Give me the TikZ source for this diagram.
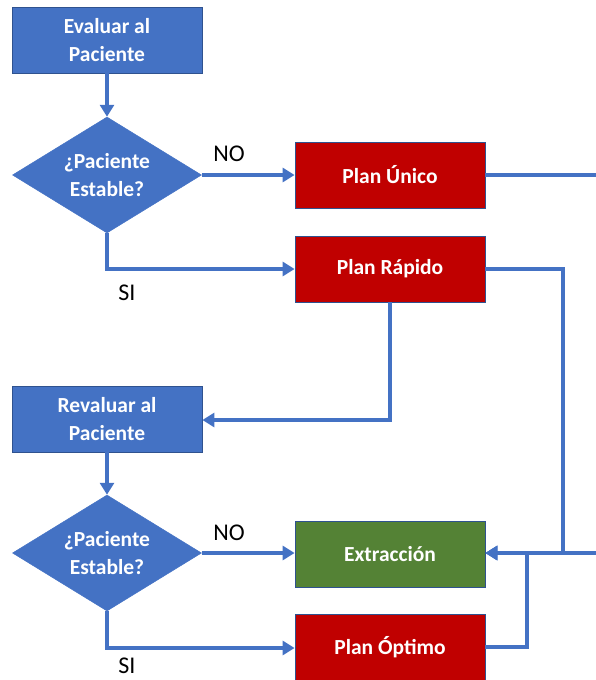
\documentclass[tikz,border=0pt]{standalone}
\usepackage{fontspec}
\setmainfont{Carlito}
\usetikzlibrary{shapes.geometric,arrows.meta}
\definecolor{oblue}{HTML}{4472C4}
\definecolor{oblueline}{HTML}{2F528F}
\definecolor{ored}{HTML}{C00000}
\definecolor{ogreen}{HTML}{548235}
\tikzset{
  fbox/.style={rectangle, draw=oblueline, line width=0.8pt, minimum width=190pt, minimum height=66pt, inner sep=0pt, text=white, align=center, font=\fontsize{21.5}{28}\selectfont\bfseries},
  bluebox/.style={fbox, fill=oblue},
  redbox/.style={fbox, fill=ored},
  greenbox/.style={fbox, fill=ogreen},
  decision/.style={diamond, fill=oblue, draw=oblue, line width=0.5pt, minimum width=189pt, minimum height=116pt, aspect=1.63, inner sep=0pt, text=white, align=center, font=\fontsize{21.5}{28}\selectfont\bfseries},
  conn/.style={draw=oblue, line width=3.5pt, -{Triangle[length=12pt,width=14pt]}},
  lbl/.style={text=black, font=\fontsize{24}{26}\selectfont, inner sep=0pt}
}
\begin{document}
\begin{tikzpicture}[x=1pt,y=-1pt]
\useasboundingbox (0,0) rectangle (596,680);
\node[bluebox] (eval) at (107,40) {Evaluar al\\Paciente};
\node[decision] (d1) at (107,175) {¿Paciente\\Estable?};
\node[redbox] (unico) at (390,175) {Plan Único};
\node[redbox] (rapido) at (390,269) {Plan Rápido};
\node[bluebox] (reval) at (107,419) {Revaluar al\\Paciente};
\node[decision] (d2) at (107,553) {¿Paciente\\Estable?};
\node[greenbox] (extr) at (390,554) {Extracción};
\node[redbox] (optimo) at (390,647) {Plan Óptimo};
\node[lbl] (no1) at (229,154) {NO};
\node[lbl] (si1) at (127,293) {SI};
\node[lbl] (no2) at (229,533) {NO};
\node[lbl] (si2) at (127,666) {SI};
\coordinate (c1) at (107,269);
\coordinate (c2) at (107,648);
\coordinate (r1) at (612,175);
\coordinate (r2) at (612,553);
\coordinate (j1) at (563,269);
\coordinate (j2) at (563,553);
\coordinate (k1) at (390,420);
\coordinate (o1) at (527,647);
\coordinate (o2) at (527,553);
\draw[conn] (eval.south) -- (d1.north);
\draw[conn] (d1.east) -- (unico.west);
\draw[conn] (d1.south) -- (c1) -- (rapido.west);
\draw[conn] (rapido.south -| k1) -- (k1) -- (reval.east |- k1);
\draw[conn] (reval.south) -- (d2.north);
\draw[conn] (d2.east) -- (extr.west |- d2.east);
\draw[conn] (d2.south) -- (c2) -- (optimo.west |- c2);
\draw[conn] (unico.east) -- (r1) -- (r2) -- (extr.east |- r2);
\draw[conn] (rapido.east) -- (j1) -- (j2) -- (extr.east |- j2);
\draw[conn] (optimo.east) -- (o1) -- (o2) -- (extr.east |- o2);
\end{tikzpicture}
\end{document}
